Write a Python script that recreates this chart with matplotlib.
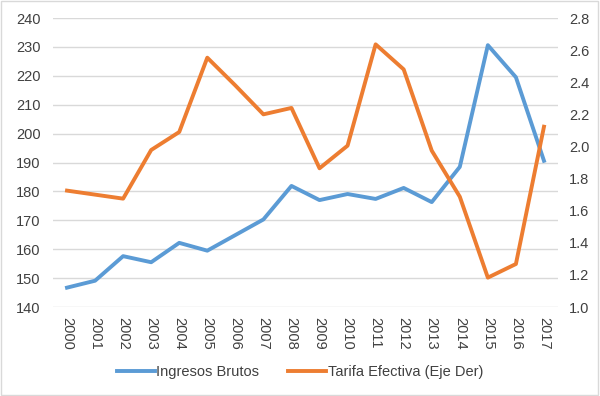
import matplotlib.pyplot as plt
from matplotlib.patches import Rectangle

years = [str(y) for y in range(2000, 2018)]
ingresos_brutos = [146.7, 149.1, 157.6, 155.5, 162.2, 159.5, 164.9, 170.3, 181.9,
                   177.0, 179.1, 177.4, 181.2, 176.3, 188.5, 230.6, 219.5, 190.6]
tarifa_efectiva = [1.725, 1.70, 1.675, 1.978, 2.09, 2.553, 2.38, 2.20, 2.24,
                   1.864, 2.005, 2.636, 2.48, 1.974, 1.687, 1.183, 1.268, 2.123]

blue = '#5B9BD5'
orange = '#ED7D31'
text_color = '#404040'
plt.rcParams['font.family'] = ['Liberation Sans', 'DejaVu Sans']

fig = plt.figure(figsize=(6, 3.96), dpi=100)
ax = fig.add_axes([0.0883, 0.2247, 0.8417, 0.7298])
ax2 = ax.twinx()

x = list(range(len(years)))
l1, = ax.plot(x, ingresos_brutos, color=blue, lw=2.8, solid_joinstyle='round', label='Ingresos Brutos', zorder=3)
l2, = ax2.plot(x, tarifa_efectiva, color=orange, lw=2.8, solid_joinstyle='round', label='Tarifa Efectiva (Eje Der)', zorder=3)

ax.set_xlim(-0.5, len(years) - 0.5)
ax.set_ylim(140, 240)
ax.set_yticks(range(140, 241, 10))
ax2.set_ylim(1.0, 2.8)
ax2.set_yticks([1.0, 1.2, 1.4, 1.6, 1.8, 2.0, 2.2, 2.4, 2.6, 2.8])
ax2.set_yticklabels([f'{v:.1f}' for v in ax2.get_yticks()])
ax.set_xticks(x)
ax.set_xticklabels(years, rotation=270)

ax.grid(axis='y', color='#D9D9D9', lw=1)
ax.set_axisbelow(True)
for a in (ax, ax2):
    for s in a.spines.values():
        s.set_visible(False)
ax.tick_params(axis='y', length=0, pad=9, labelsize=10.5, labelcolor=text_color)
ax.tick_params(axis='x', length=0, pad=7, labelsize=10.5, labelcolor=text_color)
ax2.tick_params(axis='y', length=0, pad=8, labelsize=10.5, labelcolor=text_color)

fig.legend(handles=[l1, l2], loc='center', bbox_to_anchor=(0.5, 0.06), ncol=2,
           frameon=False, fontsize=10.5, handlelength=2.6, columnspacing=2.0,
           handletextpad=0.1, labelcolor=text_color)

fig.patches.append(Rectangle((0.002, 0.003), 0.994, 0.994, transform=fig.transFigure,
                             fill=False, edgecolor='#D9D9D9', lw=1))

fig.savefig('out.png', dpi=100)
